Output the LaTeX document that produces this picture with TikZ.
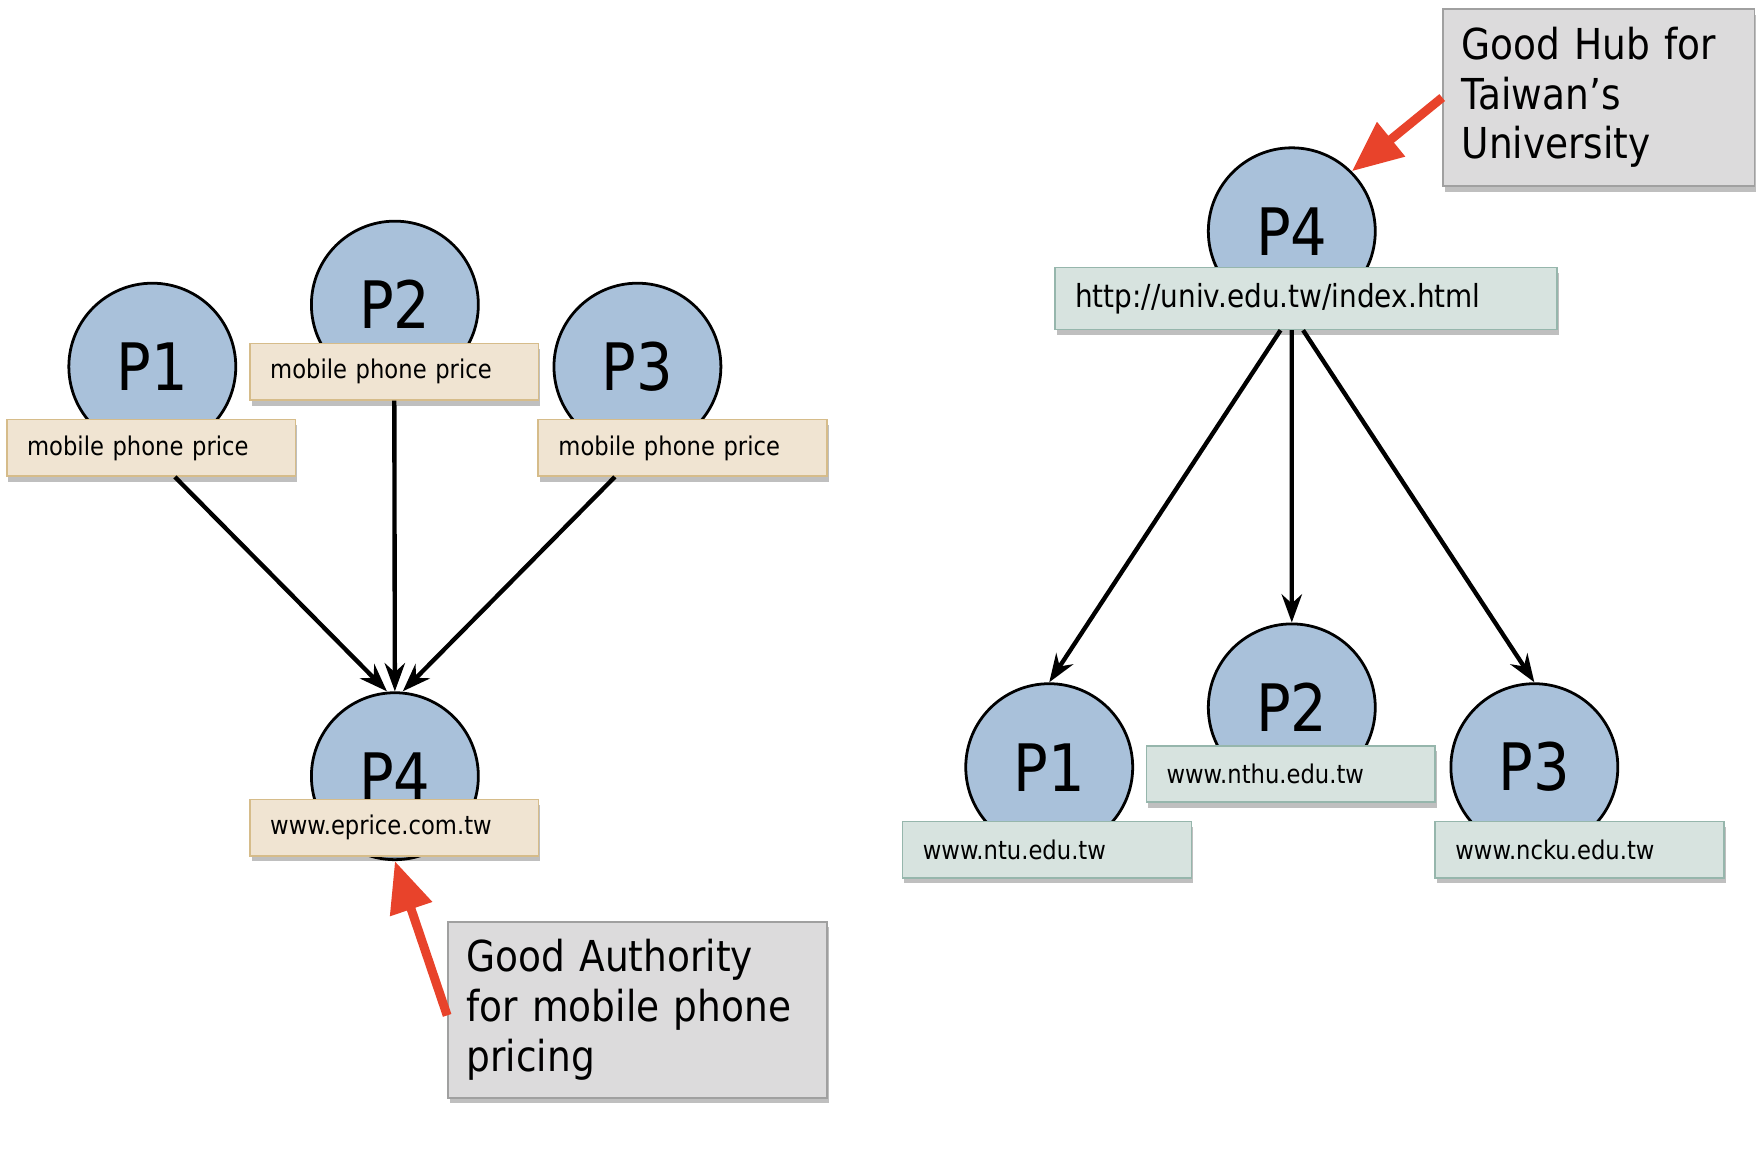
\documentclass[tikz,border=0pt]{standalone}
\usepackage{fontspec}
\setmainfont{DejaVu Sans}[FakeStretch=0.88]
\usetikzlibrary{arrows.meta,shadows}
\definecolor{circfill}{RGB}{169,193,218}
\definecolor{tanfill}{RGB}{240,228,210}
\definecolor{tanline}{RGB}{214,188,138}
\definecolor{sagefill}{RGB}{215,227,223}
\definecolor{sageline}{RGB}{150,182,172}
\definecolor{notefill}{RGB}{220,219,220}
\definecolor{noteline}{RGB}{160,160,160}
\definecolor{callred}{RGB}{232,67,43}
\begin{document}
\begin{tikzpicture}[x={(0.02cm,0cm)},y={(0cm,-0.02cm)},
  page/.style={circle,draw=black,line width=1.4pt,fill=circfill,minimum size=2.96cm,inner sep=0pt,font=\fontsize{33}{36}\selectfont},
  labelbox/.style={line width=0.8pt,minimum height=1cm,inner xsep=0.36cm,text width=4.4cm,align=left,font=\fontsize{13}{15}\selectfont,drop shadow={shadow xshift=0.03cm,shadow yshift=-0.1cm,fill=black,opacity=0.25}},
  tanbox/.style={labelbox,draw=tanline,fill=tanfill},
  sagebox/.style={labelbox,draw=sageline,fill=sagefill},
  note/.style={draw=noteline,line width=0.8pt,fill=notefill,align=left,inner xsep=0.33cm,font=\fontsize{21.5}{25}\selectfont,drop shadow={shadow xshift=0.03cm,shadow yshift=-0.1cm,fill=black,opacity=0.25}},
  link/.style={-{Stealth[length=0.5cm,width=0.36cm]},line width=2.2pt},
  callout/.style={-{Triangle[length=0.9cm,width=0.75cm]},line width=4.5pt,callred}]
\useasboundingbox (0,0) rectangle (1560,1024.6);
\node[page] (lp1) at (135,325) {P1};
\node[page] (lp2) at (350,270) {P2};
\node[page] (lp3) at (565,325) {P3};
\node[page] (lp4) at (350,688) {P4};
\node[tanbox] (lb1) at (134,397) {mobile phone price};
\node[tanbox] (lb2) at (349.5,329.5) {mobile phone price};
\node[tanbox] (lb3) at (605,397) {mobile phone price};
\node[tanbox] (lb4) at (349.5,733.5) {www.eprice.com.tw};
\node[page] (rp4) at (1145,205) {P4};
\node[sagebox,text width=8.18cm,minimum height=1.1cm,font=\fontsize{16}{18}\selectfont] (rb4) at (1157.5,264.5) {http://univ.edu.tw/index.html};
\node[page] (rp1) at (930,680) {P1};
\node[page] (rp2) at (1145,627) {P2};
\node[page] (rp3) at (1360,680) {P3};
\node[sagebox] (rb1) at (928,753) {www.ntu.edu.tw};
\node[sagebox] (rb2) at (1144,686) {www.nthu.edu.tw};
\node[sagebox] (rb3) at (1400,753) {www.ncku.edu.tw};
\node[note,text width=6.06cm,minimum height=3.12cm] (authnote) at (565,895) {Good Authority\\for mobile phone\\pricing};
\node[note,text width=4.86cm,minimum height=3.14cm] (hubnote) at (1417,86.5) {Good Hub for\\Taiwan’s\\University};
\draw[link] ([xshift=0.42cm]lb1.south) -- ([xshift=-0.14cm]lp4.north);
\draw[link] (lb2.south) -- (lp4.north);
\draw[link] ([xshift=-1.2cm]lb3.south) -- ([xshift=0.14cm]lp4.north);
\draw[link] ([xshift=-0.45cm]rb4.south) -- (rp1.north);
\draw[link] ([xshift=-0.25cm]rb4.south) -- (rp2.north);
\draw[link] ([xshift=-0.05cm]rb4.south) -- (rp3.north);
\draw[callout] ([yshift=-0.1cm]authnote.west) -- (lp4.south);
\draw[callout] (hubnote.west) -- (rp4.45);
\end{tikzpicture}
\end{document}
